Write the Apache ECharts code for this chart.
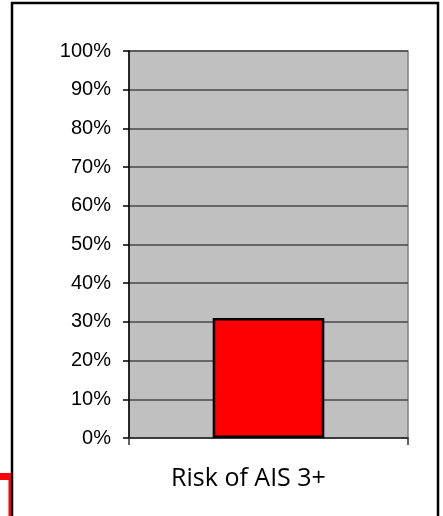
<!DOCTYPE html>
<html>
<head>
<meta charset="utf-8">
<script src="https://cdn.jsdelivr.net/npm/echarts@6/dist/echarts.min.js"></script>
<style>
html,body{margin:0;padding:0;background:#fff;}
#c{width:443px;height:516px;}
</style>
</head>
<body>
<div id="c"></div>
<script>
const categories = ['Risk of AIS 3+'];
const riskValues = [0.31];
const yTicks = ['0%','10%','20%','30%','40%','50%','60%','70%','80%','90%','100%'];

const chart = echarts.init(document.getElementById('c'), null, {renderer: 'canvas'});
chart.setOption({
  animation: false,
  backgroundColor: '#ffffff',
  grid: {
    left: 129, right: 35, top: 51, bottom: 78,
    show: true, backgroundColor: '#c0c0c0', borderColor: '#808080', borderWidth: 1.5
  },
  xAxis: {
    type: 'category',
    data: categories,
    axisLine: {show: true, lineStyle: {color: '#303030', width: 1.5}},
    axisTick: {show: true, length: 7, lineStyle: {color: '#303030', width: 1.5}},
    axisLabel: {
      color: '#000', fontFamily: 'Open Sans', fontSize: 25, margin: 28,
      padding: [0, 40, 0, 0]
    }
  },
  yAxis: {
    type: 'value',
    min: 0, max: 1, interval: 0.1,
    axisLine: {show: true, lineStyle: {color: '#000', width: 1.5}},
    axisTick: {show: true, length: 6, lineStyle: {color: '#000', width: 1.5}},
    axisLabel: {
      color: '#000', fontFamily: 'Liberation Sans', fontSize: 20, margin: 18,
      formatter: function (v) { return yTicks[Math.round(v * 10)]; }
    },
    splitLine: {show: true, lineStyle: {color: '#484848', width: 1.5}}
  },
  series: [{
    type: 'bar',
    data: riskValues,
    barWidth: '40%',
    itemStyle: {color: '#ff0000', borderColor: '#000', borderWidth: 2.5}
  }],
  graphic: [
    {type: 'rect', shape: {x: 12, y: 3, width: 426, height: 600}, style: {fill: 'none', stroke: '#000', lineWidth: 2.5}, z: 100},
    {type: 'rect', shape: {x: 0, y: 473, width: 10.5, height: 7}, style: {fill: '#ff0000'}, z: 100},
    {type: 'rect', shape: {x: 8.5, y: 473, width: 2.5, height: 50}, style: {fill: '#ff0000'}, z: 100}
  ]
});
</script>
</body>
</html>
